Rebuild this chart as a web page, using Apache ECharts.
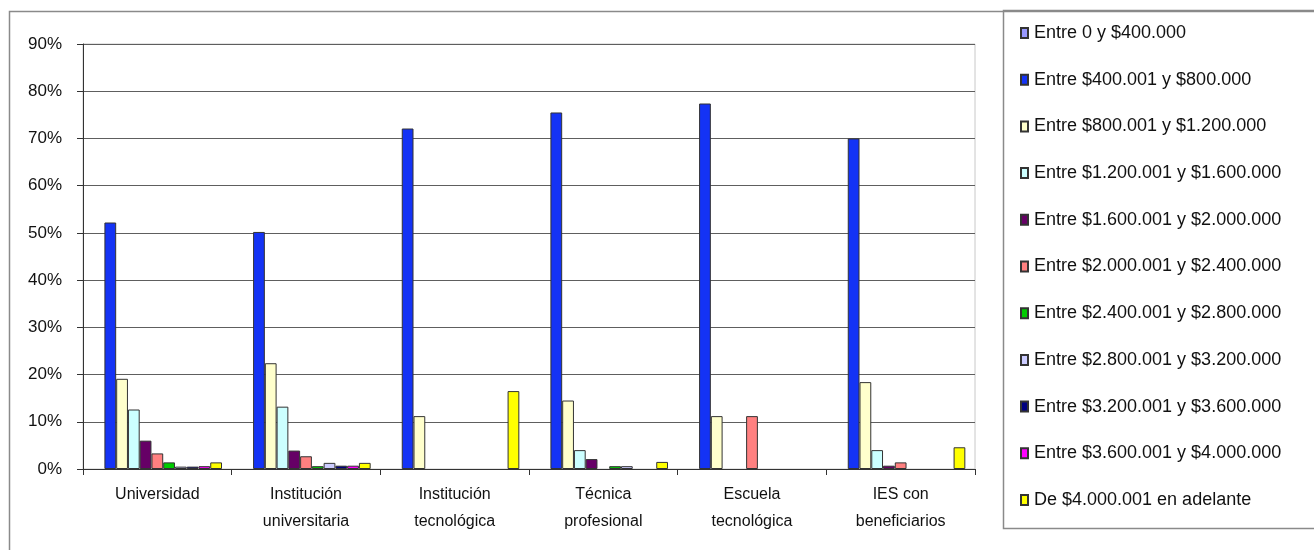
<!DOCTYPE html>
<html>
<head>
<meta charset="utf-8">
<script src="https://cdn.jsdelivr.net/npm/echarts@6/dist/echarts.min.js"></script>
<style>
  html, body { margin: 0; padding: 0; background: #fff; }
  #chart { width: 1314px; height: 550px; }
</style>
</head>
<body>
<div id="chart"></div>
<script>
  // categorias (tipo de institución)
  const categories = ['Universidad', 'Institución\nuniversitaria', 'Institución\ntecnológica',
    'Técnica\nprofesional', 'Escuela\ntecnológica', 'IES con\nbeneficiarios']

  // rangos de ingreso
  const rangos = [
    'Entre 0 y $400.000',
    'Entre $400.001 y $800.000',
    'Entre $800.001 y $1.200.000',
    'Entre $1.200.001 y $1.600.000',
    'Entre $1.600.001 y $2.000.000',
    'Entre $2.000.001 y $2.400.000',
    'Entre $2.400.001 y $2.800.000',
    'Entre $2.800.001 y $3.200.000',
    'Entre $3.200.001 y $3.600.000',
    'Entre $3.600.001 y $4.000.000',
    'De $4.000.001 en adelante'
  ]
  const colores = ['#9999ff', '#1433f5', '#ffffcc', '#ccffff', '#660066', '#ff8080',
    '#00cc00', '#ccccff', '#000080', '#ff00ff', '#ffff00']

  // porcentajes por rango (en el orden de categories)
  const r0 = [0, 0, 0, 0, 0, 0]
  const r1 = [52.2, 50.2, 72.1, 75.5, 77.4, 70.0]
  const r2 = [19.1, 22.4, 11.2, 14.5, 11.2, 18.4]
  const r3 = [12.6, 13.2, 0, 4.0, 0, 4.0]
  const r4 = [6.0, 3.9, 0, 2.1, 0, 0.7]
  const r5 = [3.3, 2.7, 0, 0, 11.2, 1.4]
  const r6 = [1.4, 0.6, 0, 0.6, 0, 0]
  const r7 = [0.5, 1.3, 0, 0.6, 0, 0]
  const r8 = [0.5, 0.7, 0, 0, 0, 0]
  const r9 = [0.6, 0.7, 0, 0, 0, 0]
  const r10 = [1.4, 1.3, 16.5, 1.5, 0, 4.6]
  const valores = [r0, r1, r2, r3, r4, r5, r6, r7, r8, r9, r10]

  const yTicks = [0, 10, 20, 30, 40, 50, 60, 70, 80, 90]

  const font = 'Liberation Sans, Arial, sans-serif'
  const myChart = echarts.init(document.getElementById('chart'))

  const series = rangos.map(function (nombre, i) {
    return {
      name: nombre,
      type: 'bar',
      barGap: 0,
      barCategoryGap: '13%',
      data: valores[i].map(function (v) { return v === 0 ? null : v }),
      itemStyle: {
        color: colores[i],
        borderColor: '#333',
        borderWidth: 1
      }
    }
  })

  const option = {
    animation: false,
    backgroundColor: '#fff',
    textStyle: { fontFamily: font },
    graphic: [
      // marco del gráfico
      {
        type: 'rect',
        shape: { x: 9.5, y: 11.5, width: 1320, height: 600 },
        style: { fill: 'none', stroke: '#8a8a8a', lineWidth: 1.5 },
        silent: true
      },
      // marco de la leyenda
      {
        type: 'rect',
        shape: { x: 1003.5, y: 10.5, width: 320, height: 518 },
        style: { fill: '#fff', stroke: '#8a8a8a', lineWidth: 1.5 },
        silent: true,
        z: -1
      }
    ],
    legend: {
      orient: 'vertical',
      left: 1015,
      top: 19,
      itemWidth: 7,
      itemHeight: 10,
      itemGap: 28.7,
      icon: 'rect',
      data: rangos,
      textStyle: {
        fontFamily: font,
        fontSize: 18,
        lineHeight: 18,
        color: '#111',
        padding: [0, 0, 0, 1]
      }
    },
    grid: {
      left: 83,
      right: 339,
      top: 44,
      bottom: 81,
      show: true,
      borderColor: '#c8c8c8',
      borderWidth: 1
    },
    xAxis: {
      type: 'category',
      data: categories,
      axisLine: { lineStyle: { color: '#333', width: 1 } },
      axisTick: { show: true, length: 6, lineStyle: { color: '#333' } },
      axisLabel: {
        fontFamily: font,
        fontSize: 16,
        lineHeight: 27,
        color: '#111',
        margin: 12
      }
    },
    yAxis: {
      type: 'value',
      min: 0,
      max: 90,
      interval: 10,
      axisLine: { show: true, lineStyle: { color: '#333', width: 1 } },
      axisTick: { show: true, length: 6, lineStyle: { color: '#333' } },
      splitLine: { lineStyle: { color: '#5e5e5e', width: 1 } },
      axisLabel: {
        fontFamily: font,
        fontSize: 17,
        color: '#111',
        margin: 21,
        formatter: function (v) { return yTicks.indexOf(v) >= 0 ? v + '%' : '' }
      }
    },
    series: series
  }

  myChart.setOption(option)
</script>
</body>
</html>
